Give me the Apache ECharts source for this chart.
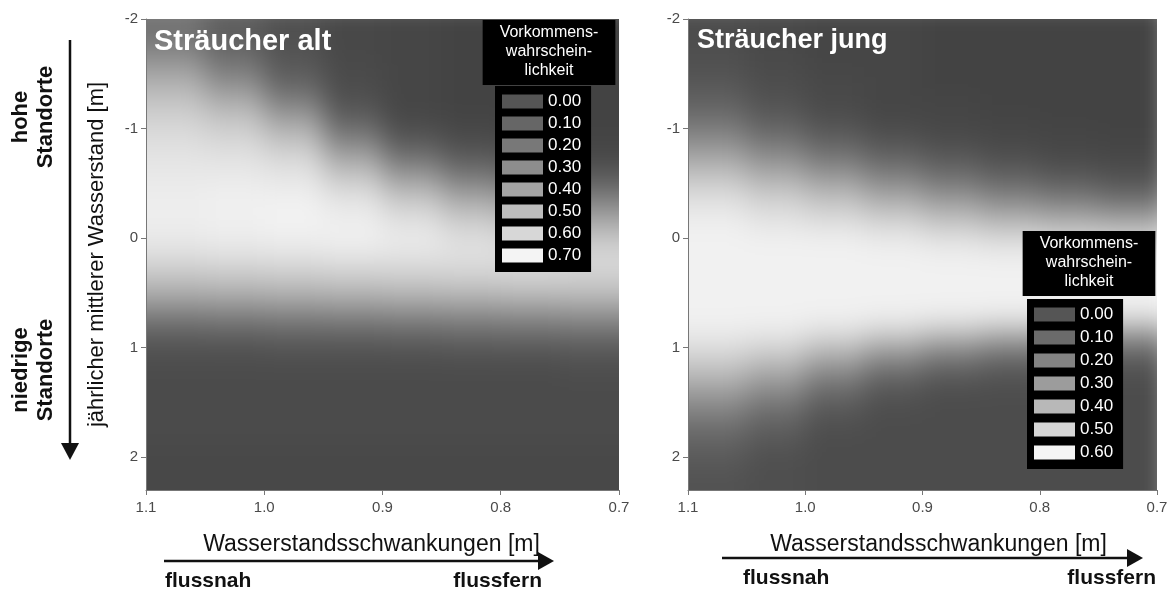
<!DOCTYPE html>
<html><head><meta charset="utf-8">
<script src="https://cdn.jsdelivr.net/npm/echarts@6/dist/echarts.min.js"></script>
<style>
html,body{margin:0;padding:0;background:#fff}
#wrap{position:relative;width:1171px;height:590px}
#heat,#main{position:absolute;left:0;top:0;width:1171px;height:590px}
#heat{filter:blur(13px);clip-path:path('M146 19H619V490H146Z M688 19H1157V490H688Z')}
</style>
</head><body><div id="wrap"><div id="heat"></div><div id="main"></div></div>
<script>
// ---------- data ----------
const xCenters = [1.075, 1.025, 0.975, 0.925, 0.875, 0.825, 0.775, 0.725];
const yCenters = [-1.95,-1.85,-1.75,-1.65,-1.55,-1.45,-1.35,-1.25,-1.15,-1.05,-0.95,-0.85,-0.75,-0.65,-0.55,-0.45,-0.35,-0.25,-0.15,-0.05,
  0.05,0.15,0.25,0.35,0.45,0.55,0.65,0.75,0.85,0.95,1.05,1.15,1.25,1.35,1.45,1.55,1.65,1.75,1.85,1.95,2.05,2.15,2.25];
// Sträucher alt: occurrence probability, one row per yCenter, one column per xCenter
const altValues = [
  [0.18,0.10,0.05,0.02,0.01,0.00,0.00,0.00],
  [0.20,0.11,0.05,0.02,0.01,0.00,0.00,0.00],
  [0.24,0.13,0.06,0.02,0.01,0.00,0.00,0.00],
  [0.30,0.17,0.07,0.02,0.01,0.00,0.00,0.00],
  [0.36,0.22,0.09,0.03,0.01,0.00,0.00,0.00],
  [0.42,0.28,0.12,0.03,0.01,0.00,0.00,0.00],
  [0.47,0.35,0.17,0.04,0.01,0.00,0.00,0.00],
  [0.51,0.42,0.24,0.06,0.01,0.00,0.00,0.00],
  [0.55,0.48,0.32,0.09,0.01,0.00,0.00,0.00],
  [0.58,0.53,0.40,0.14,0.03,0.01,0.00,0.00],
  [0.60,0.57,0.47,0.21,0.06,0.02,0.01,0.00],
  [0.62,0.60,0.53,0.29,0.11,0.05,0.02,0.01],
  [0.64,0.63,0.58,0.38,0.18,0.09,0.05,0.02],
  [0.65,0.65,0.62,0.46,0.27,0.15,0.09,0.05],
  [0.66,0.66,0.65,0.53,0.36,0.23,0.15,0.10],
  [0.67,0.68,0.67,0.59,0.45,0.32,0.23,0.17],
  [0.68,0.69,0.69,0.64,0.53,0.41,0.32,0.25],
  [0.68,0.69,0.70,0.67,0.59,0.49,0.40,0.33],
  [0.68,0.69,0.70,0.68,0.63,0.55,0.47,0.41],
  [0.67,0.68,0.69,0.69,0.66,0.60,0.53,0.48],
  [0.65,0.66,0.67,0.68,0.66,0.62,0.58,0.55],
  [0.62,0.63,0.64,0.65,0.64,0.63,0.61,0.59],
  [0.57,0.58,0.59,0.60,0.60,0.60,0.60,0.59],
  [0.51,0.52,0.53,0.54,0.55,0.56,0.57,0.56],
  [0.46,0.47,0.48,0.49,0.50,0.51,0.52,0.52],
  [0.38,0.39,0.40,0.41,0.42,0.43,0.44,0.45],
  [0.29,0.30,0.31,0.32,0.33,0.34,0.35,0.36],
  [0.20,0.21,0.22,0.23,0.24,0.25,0.26,0.27],
  [0.13,0.14,0.15,0.15,0.16,0.17,0.18,0.19],
  [0.08,0.08,0.09,0.09,0.10,0.11,0.12,0.12],
  [0.05,0.05,0.06,0.06,0.06,0.07,0.07,0.08],
  [0.04,0.04,0.04,0.04,0.04,0.04,0.04,0.05],
  [0.03,0.03,0.03,0.03,0.03,0.03,0.03,0.04],
  [0.03,0.03,0.03,0.03,0.03,0.03,0.03,0.03],
  [0.03,0.03,0.03,0.03,0.03,0.03,0.03,0.03],
  [0.03,0.03,0.03,0.03,0.03,0.03,0.03,0.03],
  [0.03,0.03,0.03,0.03,0.03,0.03,0.03,0.03],
  [0.03,0.03,0.03,0.03,0.03,0.03,0.03,0.03],
  [0.03,0.03,0.03,0.03,0.03,0.03,0.03,0.03],
  [0.02,0.02,0.02,0.02,0.02,0.02,0.02,0.02],
  [0.02,0.02,0.02,0.02,0.02,0.02,0.02,0.02],
  [0.02,0.02,0.02,0.02,0.02,0.02,0.02,0.02],
  [0.02,0.02,0.02,0.02,0.02,0.02,0.02,0.02]
];
// Sträucher jung
const jungValues = [
  [0.03,0.02,0.01,0.01,0.00,0.00,0.00,0.00],
  [0.03,0.02,0.01,0.01,0.00,0.00,0.00,0.00],
  [0.04,0.02,0.01,0.01,0.00,0.00,0.00,0.00],
  [0.04,0.02,0.01,0.01,0.00,0.00,0.00,0.00],
  [0.05,0.03,0.01,0.01,0.00,0.00,0.00,0.00],
  [0.06,0.03,0.02,0.01,0.00,0.00,0.00,0.00],
  [0.08,0.04,0.02,0.01,0.00,0.00,0.00,0.00],
  [0.10,0.05,0.02,0.01,0.01,0.00,0.00,0.00],
  [0.13,0.07,0.03,0.01,0.01,0.00,0.00,0.00],
  [0.17,0.10,0.05,0.02,0.01,0.01,0.00,0.00],
  [0.22,0.14,0.08,0.04,0.02,0.01,0.01,0.00],
  [0.27,0.19,0.12,0.07,0.04,0.02,0.01,0.01],
  [0.33,0.25,0.17,0.11,0.07,0.04,0.02,0.01],
  [0.39,0.31,0.23,0.16,0.11,0.07,0.04,0.03],
  [0.44,0.37,0.30,0.22,0.16,0.11,0.08,0.05],
  [0.49,0.43,0.37,0.29,0.22,0.17,0.13,0.09],
  [0.53,0.48,0.43,0.36,0.30,0.24,0.20,0.16],
  [0.56,0.52,0.48,0.43,0.37,0.32,0.29,0.25],
  [0.58,0.55,0.53,0.49,0.44,0.40,0.37,0.35],
  [0.59,0.57,0.56,0.54,0.50,0.47,0.45,0.44],
  [0.59,0.59,0.59,0.57,0.55,0.53,0.52,0.51],
  [0.59,0.59,0.59,0.59,0.58,0.57,0.56,0.55],
  [0.59,0.59,0.59,0.59,0.59,0.59,0.59,0.58],
  [0.59,0.59,0.59,0.59,0.59,0.59,0.59,0.59],
  [0.59,0.59,0.59,0.59,0.59,0.59,0.59,0.59],
  [0.59,0.59,0.59,0.59,0.59,0.59,0.59,0.59],
  [0.59,0.59,0.59,0.59,0.59,0.59,0.59,0.59],
  [0.59,0.59,0.58,0.56,0.54,0.52,0.50,0.48],
  [0.57,0.56,0.53,0.49,0.45,0.41,0.37,0.34],
  [0.54,0.52,0.46,0.39,0.33,0.28,0.24,0.21],
  [0.50,0.46,0.38,0.29,0.22,0.17,0.14,0.12],
  [0.45,0.40,0.30,0.20,0.14,0.10,0.08,0.07],
  [0.40,0.33,0.22,0.13,0.08,0.06,0.05,0.04],
  [0.34,0.27,0.16,0.08,0.05,0.04,0.03,0.03],
  [0.28,0.21,0.11,0.05,0.03,0.03,0.03,0.03],
  [0.23,0.16,0.08,0.04,0.03,0.03,0.03,0.03],
  [0.18,0.12,0.05,0.03,0.03,0.03,0.03,0.03],
  [0.14,0.09,0.04,0.03,0.03,0.03,0.03,0.03],
  [0.11,0.07,0.03,0.03,0.03,0.03,0.03,0.03],
  [0.09,0.05,0.03,0.03,0.03,0.03,0.03,0.03],
  [0.07,0.04,0.03,0.03,0.03,0.03,0.03,0.03],
  [0.06,0.04,0.03,0.03,0.03,0.03,0.03,0.03],
  [0.05,0.04,0.03,0.03,0.03,0.03,0.03,0.03]
];
const xTicks = [1.1, 1.0, 0.9, 0.8, 0.7];
const yTicks = [-2, -1, 0, 1, 2];
const altLegendLabels = ['0.00','0.10','0.20','0.30','0.40','0.50','0.60','0.70'];
const jungLegendLabels = ['0.00','0.10','0.20','0.30','0.40','0.50','0.60'];

// ---------- styles ----------
const FONT = 'Liberation Sans, Arial, sans-serif';
const altSwatch = ['#555555','#666666','#787878','#8d8d8d','#a4a4a4','#bdbdbd','#d7d7d7','#f4f4f4'];
const jungSwatch = ['#555555','#6b6b6b','#838383','#9c9c9c','#b8b8b8','#d6d6d6','#f5f5f5'];
const DX = 0.05, DY = 0.1, BLEED = 40;
const GRIDS = [ { left: 146, top: 19, width: 473, height: 471 }, { left: 688, top: 19, width: 469, height: 471 } ];

function toCells(values) {
  const out = [];
  values.forEach((row, r) => row.forEach((v, c) => out.push([xCenters[c], yCenters[r], v])));
  return out;
}
function renderCell(params, api) {
  const x = api.value(0), y = api.value(1);
  const a = api.coord([x + DX / 2, y - DY / 2]);
  const b = api.coord([x - DX / 2, y + DY / 2]);
  let x0 = Math.min(a[0], b[0]), x1 = Math.max(a[0], b[0]);
  let y0 = Math.min(a[1], b[1]), y1 = Math.max(a[1], b[1]);
  const cs = params.coordSys;
  // edge cells bleed outward so the soft rendering does not fade at the plot border
  if (x0 <= cs.x + 1) x0 -= BLEED;
  if (x1 >= cs.x + cs.width - 1) x1 += BLEED;
  if (y0 <= cs.y + 1) y0 -= BLEED;
  if (y1 >= cs.y + cs.height - 1) y1 += BLEED;
  return { type: 'rect', shape: { x: x0, y: y0, width: x1 - x0 + 0.7, height: y1 - y0 + 0.7 },
    style: { fill: api.visual('color') } };
}
function hiddenX(gi) { return { type: 'value', gridIndex: gi, min: 0.7, max: 1.1, inverse: true, show: false }; }
function hiddenY(gi) { return { type: 'value', gridIndex: gi, min: -2, max: 2.3, inverse: true, show: false }; }
function xAx(gi, pad) {
  return { type: 'value', gridIndex: gi, min: 0.7, max: 1.1, inverse: true,
    axisLine: { show: true, onZero: false, lineStyle: { color: '#777', width: 1 } },
    axisTick: { show: true, length: 5, lineStyle: { color: '#777' }, customValues: xTicks },
    axisLabel: { color: '#4a4a4a', fontSize: 15, fontFamily: FONT, margin: 10, customValues: xTicks,
      formatter: v => Number(v).toFixed(1) },
    splitLine: { show: false },
    name: 'Wasserstandsschwankungen [m]', nameLocation: 'middle', nameGap: 43,
    nameTextStyle: { color: '#111', fontSize: 23, fontFamily: FONT, padding: pad } };
}
function yAx(gi, withName) {
  const o = { type: 'value', gridIndex: gi, min: -2, max: 2.3, inverse: true,
    axisLine: { show: true, onZero: false, lineStyle: { color: '#777', width: 1 } },
    axisTick: { show: true, length: 5, lineStyle: { color: '#777' }, customValues: yTicks },
    axisLabel: { color: '#4a4a4a', fontSize: 15, fontFamily: FONT, margin: 8, customValues: yTicks,
      formatter: v => String(v) },
    splitLine: { show: false } };
  if (withName) {
    o.name = 'jährlicher mittlerer Wasserstand [m]';
    o.nameLocation = 'middle'; o.nameGap = 38; o.nameRotate = 90;
    o.nameTextStyle = { color: '#111', fontSize: 22, fontFamily: FONT };
  }
  return o;
}
function dummy(prefix, labels, colors, gi) {
  return labels.map((l, i) => ({ type: 'line', name: prefix + l, data: [], xAxisIndex: gi, yAxisIndex: gi,
    itemStyle: { color: colors[i] }, lineStyle: { color: colors[i] } }));
}
function legendTitle(left, top) {
  return { text: 'Vorkommens-\nwahrschein-\nlichkeit', left, top, textAlign: 'center',
    backgroundColor: '#000', padding: [3, 17, 5, 17],
    textStyle: { color: '#fff', fontSize: 16, fontWeight: 'normal', lineHeight: 19, fontFamily: FONT } };
}
function legendBox(prefix, labels, left, top, gap) {
  return { orient: 'vertical', left, top, backgroundColor: '#000', padding: [7, 10, 8, 7],
    icon: 'rect', itemWidth: 41, itemHeight: 14, itemGap: gap, selectedMode: false,
    data: labels.map(l => prefix + l), formatter: n => n.slice(1),
    textStyle: { color: '#fff', fontSize: 17, fontFamily: FONT } };
}

// heat layer: the two probability surfaces
const heat = echarts.init(document.getElementById('heat'), null, { renderer: 'canvas' });
heat.setOption({
  animation: false,
  grid: GRIDS,
  xAxis: [ hiddenX(0), hiddenX(1) ],
  yAxis: [ hiddenY(0), hiddenY(1) ],
  visualMap: [
    { type: 'continuous', show: false, seriesIndex: 0, dimension: 2, min: 0, max: 0.7,
      inRange: { color: ['#434343', '#f3f3f3'] } },
    { type: 'continuous', show: false, seriesIndex: 1, dimension: 2, min: 0, max: 0.6,
      inRange: { color: ['#434343', '#f4f4f4'] } }
  ],
  series: [
    { type: 'custom', name: 'Sträucher alt', xAxisIndex: 0, yAxisIndex: 0, clip: false, silent: true,
      encode: { x: 0, y: 1 }, renderItem: renderCell, data: toCells(altValues) },
    { type: 'custom', name: 'Sträucher jung', xAxisIndex: 1, yAxisIndex: 1, clip: false, silent: true,
      encode: { x: 0, y: 1 }, renderItem: renderCell, data: toCells(jungValues) }
  ]
});

// main layer: axes, texts, legends
const chart = echarts.init(document.getElementById('main'), null, { renderer: 'canvas' });
chart.setOption({
  animation: false,
  grid: GRIDS,
  xAxis: [ xAx(0, [0, 22, 0, 0]), xAx(1, [0, 0, 0, 32]) ],
  yAxis: [ yAx(0, true), yAx(1, false) ],
  title: [
    { text: 'Sträucher alt', left: 154, top: 27, padding: 0,
      textStyle: { color: '#fff', fontSize: 29, fontWeight: 'bold', fontFamily: FONT } },
    { text: 'Sträucher jung', left: 697, top: 27, padding: 0,
      textStyle: { color: '#fff', fontSize: 27, fontWeight: 'bold', fontFamily: FONT } },
    legendTitle(532, 20),
    legendTitle(1072, 231)
  ],
  legend: [ legendBox('L', altLegendLabels, 495, 86, 5), legendBox('R', jungLegendLabels, 1027, 299, 6) ],
  series: [
    ...dummy('L', altLegendLabels, altSwatch, 0),
    ...dummy('R', jungLegendLabels, jungSwatch, 1)
  ],
  graphic: [
    { type: 'line', shape: { x1: 70, y1: 40, x2: 70, y2: 446 }, style: { stroke: '#111', lineWidth: 2.5 } },
    { type: 'polygon', shape: { points: [[61, 443], [79, 443], [70, 460]] }, style: { fill: '#111' } },
    { type: 'text', x: 33, y: 117, rotation: Math.PI / 2,
      style: { text: 'hohe\nStandorte', align: 'center', verticalAlign: 'middle', fill: '#111',
        font: 'bold 22px ' + FONT, lineHeight: 25 } },
    { type: 'text', x: 33, y: 370, rotation: Math.PI / 2,
      style: { text: 'niedrige\nStandorte', align: 'center', verticalAlign: 'middle', fill: '#111',
        font: 'bold 22px ' + FONT, lineHeight: 25 } },
    { type: 'line', shape: { x1: 164, y1: 561, x2: 541, y2: 561 }, style: { stroke: '#111', lineWidth: 2.5 } },
    { type: 'polygon', shape: { points: [[538, 552], [538, 570], [554, 561]] }, style: { fill: '#111' } },
    { type: 'line', shape: { x1: 722, y1: 558, x2: 1130, y2: 558 }, style: { stroke: '#111', lineWidth: 2.5 } },
    { type: 'polygon', shape: { points: [[1127, 549], [1127, 567], [1143, 558]] }, style: { fill: '#111' } },
    { type: 'text', x: 165, y: 581, style: { text: 'flussnah', verticalAlign: 'middle', fill: '#111', font: 'bold 21px ' + FONT } },
    { type: 'text', x: 542, y: 581, style: { text: 'flussfern', align: 'right', verticalAlign: 'middle', fill: '#111', font: 'bold 21px ' + FONT } },
    { type: 'text', x: 743, y: 578, style: { text: 'flussnah', verticalAlign: 'middle', fill: '#111', font: 'bold 21px ' + FONT } },
    { type: 'text', x: 1156, y: 578, style: { text: 'flussfern', align: 'right', verticalAlign: 'middle', fill: '#111', font: 'bold 21px ' + FONT } }
  ]
});
</script></body></html>
